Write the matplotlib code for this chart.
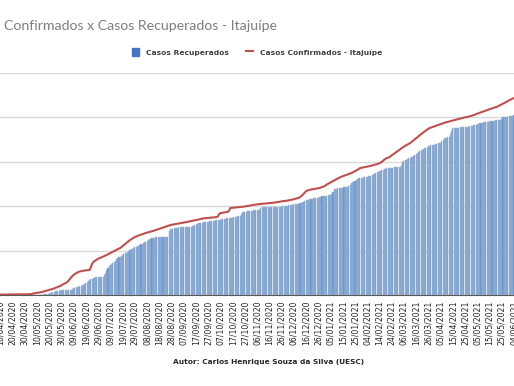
import numpy as np
import matplotlib.pyplot as plt
import pandas as pd

# daily series, 10/04/2020 -> 04/06/2021 (one row = 10 days)
confirmados = [
    3, 3, 3, 4, 4, 4, 4, 5, 5, 5,
    5, 5, 5, 6, 6, 6, 6, 6, 6, 6,
    6, 6, 6, 6, 7, 8, 10, 14, 16, 18,
    20, 22, 23, 24, 27, 30, 33, 36, 39, 42,
    44, 47, 50, 55, 60, 64, 68, 72, 76, 81,
    88, 94, 100, 106, 112, 120, 132, 145, 160, 172,
    182, 190, 196, 202, 208, 212, 215, 217, 219, 221,
    222, 223, 224, 226, 250, 280, 297, 305, 312, 320,
    326, 333, 336, 340, 345, 350, 356, 362, 367, 372,
    378, 384, 390, 396, 402, 408, 413, 418, 423, 432,
    441, 450, 459, 468, 476, 485, 495, 502, 510, 516,
    522, 527, 532, 536, 540, 544, 548, 552, 556, 559,
    562, 565, 567, 570, 573, 577, 581, 585, 589, 593,
    597, 600, 603, 607, 611, 615, 619, 622, 626, 630,
    632, 634, 636, 638, 640, 642, 644, 646, 648, 650,
    653, 655, 657, 659, 661, 664, 666, 668, 670, 672,
    674, 677, 680, 684, 686, 688, 690, 691, 692, 693,
    694, 695, 696, 698, 699, 700, 701, 702, 710, 730,
    738, 740, 742, 744, 745, 747, 749, 760, 783, 785,
    786, 787, 788, 789, 790, 791, 792, 793, 794, 796,
    798, 800, 802, 804, 806, 808, 810, 812, 814, 816,
    817, 818, 819, 820, 821, 822, 823, 824, 825, 826,
    828, 829, 830, 831, 832, 834, 836, 838, 840, 842,
    843, 845, 846, 848, 849, 851, 853, 855, 857, 860,
    863, 866, 869, 872, 875, 882, 890, 900, 912, 925,
    935, 940, 945, 948, 950, 952, 954, 956, 958, 960,
    962, 964, 968, 972, 976, 980, 988, 996, 1002, 1008,
    1014, 1020, 1026, 1032, 1038, 1044, 1050, 1056, 1062, 1066,
    1070, 1074, 1078, 1082, 1086, 1090, 1094, 1098, 1104, 1110,
    1116, 1122, 1128, 1134, 1143, 1146, 1148, 1150, 1152, 1154,
    1156, 1158, 1161, 1164, 1167, 1170, 1173, 1176, 1179, 1182,
    1188, 1194, 1200, 1210, 1220, 1228, 1233, 1238, 1242, 1250,
    1258, 1266, 1274, 1282, 1290, 1298, 1306, 1314, 1322, 1330,
    1337, 1344, 1350, 1356, 1362, 1368, 1377, 1386, 1395, 1404,
    1413, 1422, 1430, 1440, 1450, 1458, 1466, 1474, 1482, 1490,
    1498, 1504, 1508, 1512, 1516, 1520, 1524, 1528, 1532, 1536,
    1540, 1544, 1548, 1552, 1555, 1557, 1560, 1563, 1566, 1569,
    1572, 1575, 1578, 1581, 1584, 1587, 1590, 1593, 1596, 1599,
    1601, 1602, 1604, 1607, 1610, 1613, 1616, 1620, 1624, 1630,
    1634, 1638, 1642, 1646, 1650, 1654, 1658, 1662, 1666, 1670,
    1674, 1678, 1682, 1686, 1689, 1692, 1695, 1700, 1706, 1712,
    1718, 1724, 1730, 1736, 1742, 1748, 1754, 1760, 1765, 1770,
    1775,
]

recuperados = [
    0, 0, 0, 0, 0, 0, 0, 0, 0, 0,
    0, 0, 0, 0, 0, 0, 0, 0, 0, 0,
    0, 0, 0, 0, 0, 0, 0, 1, 1, 2,
    2, 3, 3, 4, 4, 5, 6, 8, 10, 12,
    14, 16, 20, 25, 30, 35, 38, 39, 40, 41,
    42, 42, 43, 43, 44, 44, 45, 45, 48, 55,
    60, 65, 70, 72, 76, 80, 84, 88, 90, 100,
    110, 120, 130, 135, 140, 146, 150, 155, 158, 160,
    161, 162, 162, 163, 165, 180, 200, 225, 245, 260,
    270, 280, 290, 300, 310, 320, 333, 340, 345, 352,
    360, 367, 375, 382, 390, 396, 405, 411, 417, 423,
    428, 434, 440, 445, 450, 456, 462, 468, 474, 480,
    487, 495, 500, 505, 509, 513, 517, 520, 522, 522,
    522, 522, 522, 522, 522, 522, 522, 522, 580, 594,
    596, 598, 600, 602, 604, 606, 608, 610, 612, 612,
    612, 612, 612, 612, 612, 612, 615, 620, 625, 630,
    636, 642, 646, 648, 650, 652, 654, 656, 658, 660,
    662, 664, 666, 667, 668, 670, 672, 674, 676, 678,
    680, 682, 684, 686, 688, 690, 692, 693, 694, 695,
    697, 700, 703, 705, 708, 710, 711, 730, 747, 748,
    750, 752, 754, 756, 758, 760, 761, 762, 763, 764,
    765, 765, 766, 780, 792, 792, 792, 792, 792, 792,
    792, 792, 792, 792, 792, 792, 792, 792, 792, 792,
    795, 798, 800, 802, 804, 806, 808, 810, 812, 814,
    816, 818, 820, 822, 824, 828, 832, 837, 842, 847,
    852, 856, 860, 864, 866, 868, 870, 872, 874, 876,
    878, 882, 885, 888, 890, 892, 894, 896, 898, 900,
    902, 910, 930, 954, 956, 958, 960, 962, 964, 966,
    968, 970, 971, 972, 974, 980, 995, 1008, 1015, 1022,
    1030, 1037, 1044, 1050, 1053, 1056, 1058, 1060, 1062, 1064,
    1066, 1068, 1071, 1076, 1082, 1088, 1094, 1100, 1106, 1112,
    1116, 1120, 1124, 1128, 1132, 1136, 1140, 1142, 1143, 1145,
    1147, 1148, 1149, 1150, 1151, 1152, 1152, 1152, 1175, 1197,
    1205, 1212, 1218, 1224, 1230, 1236, 1240, 1242, 1250, 1260,
    1270, 1280, 1290, 1296, 1302, 1308, 1314, 1320, 1326, 1332,
    1338, 1344, 1348, 1350, 1352, 1354, 1358, 1362, 1365, 1368,
    1372, 1385, 1400, 1413, 1415, 1418, 1421, 1424, 1450, 1480,
    1503, 1504, 1505, 1506, 1507, 1508, 1509, 1510, 1510, 1511,
    1511, 1512, 1514, 1516, 1518, 1521, 1524, 1527, 1530, 1533,
    1538, 1544, 1548, 1550, 1552, 1554, 1556, 1558, 1560, 1562,
    1564, 1566, 1568, 1570, 1571, 1572, 1573, 1574, 1575, 1575,
    1590, 1600, 1602, 1604, 1606, 1608, 1610, 1612, 1614, 1616,
    1620,
]

datas = pd.date_range('2020-04-10', periods=len(confirmados), freq='D')
rotulos = [d.strftime('%d/%m/%Y') for d in datas]

x = np.arange(len(datas))

fig = plt.figure(figsize=(5.14, 3.86), dpi=100)
ax = fig.add_axes([0.0, 0.2358, 1.0, 0.5751])

barras = ax.bar(x, recuperados, width=0.85, color='#5b8bd0', edgecolor='#a9bdd2',
                linewidth=0.35, label='Casos Recuperados', zorder=2)
linha, = ax.plot(x, confirmados, color='#c0504d', linewidth=1.5,
                 label='Casos Confirmados - Itajuípe', zorder=3)

ax.set_xlim(-0.3, 419.3)
ax.set_ylim(0, 2000)
ax.set_yticks([0, 400, 800, 1200, 1600, 2000])
ax.yaxis.grid(True, color='#d9d9d9', linewidth=1, zorder=0)
ax.set_axisbelow(True)
ax.tick_params(axis='y', left=False, labelleft=False)

ax.set_xticks(x[::10])
ax.set_xticklabels(rotulos[::10], rotation=90, fontsize=5.6, color='#262626')
ax.tick_params(axis='x', length=0, pad=4)

for s in ['top', 'left', 'right']:
    ax.spines[s].set_visible(False)
ax.spines['bottom'].set_color('#595959')

fig.text(0.008, 0.933, 'Confirmados x Casos Recuperados - Itajuípe', fontsize=10.2,
         family=['Lato', 'DejaVu Sans'], color='#7f7f7f', ha='left', va='center')

patch = plt.Rectangle((0, 0), 1, 1, color='#4472c4')
fig.legend([patch, linha], ['Casos Recuperados', 'Casos Confirmados - Itajuípe'],
           loc='center', bbox_to_anchor=(0.5, 0.865), ncol=2, frameon=False,
           prop={'size': 5.4, 'weight': 'bold'}, handlelength=1.0, handleheight=1.3,
           columnspacing=2.2, handletextpad=0.9, labelcolor='#404040')

fig.text(0.523, 0.062, 'Autor: Carlos Henrique Souza da Silva (UESC)', fontsize=5.3,
         color='#262626', ha='center', va='center', fontweight='bold')

fig.savefig('out.png', dpi=100)
